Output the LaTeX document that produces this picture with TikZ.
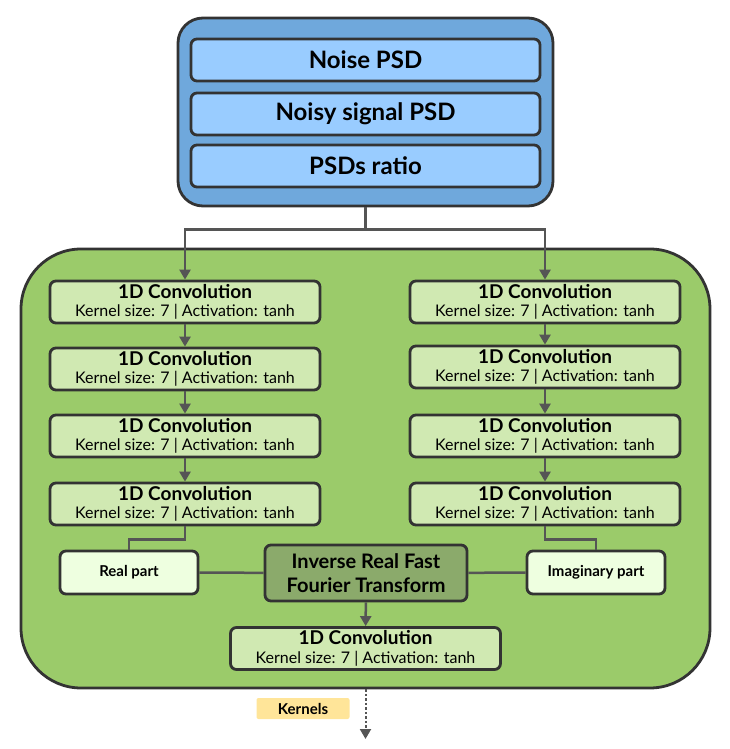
\documentclass[tikz,border=0pt]{standalone}
\usepackage{fontspec}
\setmainfont{Lato}
\usetikzlibrary{arrows.meta}
\definecolor{edge}{HTML}{333333}
\definecolor{wire}{HTML}{555555}
\definecolor{inputfill}{HTML}{6FA8DC}
\definecolor{psdfill}{HTML}{99CCFF}
\definecolor{bodyfill}{HTML}{9BCB6A}
\definecolor{convfill}{HTML}{D0E9B2}
\definecolor{partfill}{HTML}{EEFFE0}
\definecolor{fftfill}{HTML}{8BAA6B}
\definecolor{kernfill}{HTML}{FFE599}

\begin{document}
\begin{tikzpicture}[x=1pt,y=-1pt,
  box/.style={draw=edge,line width=2.8pt,rounded corners=6pt,inner sep=0pt,align=center},
  psd/.style={box,fill=psdfill,minimum width=349pt,minimum height=42pt,font=\bfseries\fontsize{24}{28}\selectfont},
  conv/.style={box,fill=convfill,minimum width=270pt,minimum height=42pt},
  part/.style={box,fill=partfill,minimum width=138pt,minimum height=43pt,font=\bfseries\fontsize{15}{18}\selectfont},
  wire/.style={draw=wire,line width=2.5pt},
  arrow/.style={wire,-{Triangle[length=10pt,width=11pt]}}]
\useasboundingbox (0,0) rectangle (730,749);

\newcommand{\convtext}{{\bfseries\fontsize{19}{21}\selectfont 1D Convolution}\\[5pt]{\fontsize{16}{18}\selectfont Kernel size: 7 | Activation: tanh}}

% input panel
\node[box,fill=inputfill,rounded corners=25pt,minimum width=375pt,minimum height=188pt] (inputs) at (365.5,112) {};
\node[psd] (noise) at (365.5,60) {Noise PSD};
\node[psd] (noisy) at (365.5,114) {Noisy signal PSD};
\node[psd] (ratio) at (365.5,166) {PSDs ratio};

% network body
\node[box,fill=bodyfill,rounded corners=60pt,minimum width=689pt,minimum height=439pt] (body) at (365.5,468.5) {};

\node[conv] (convL1) at (185,302) {\convtext};
\node[conv] (convL2) at (185,369) {\convtext};
\node[conv] (convL3) at (185,436) {\convtext};
\node[conv] (convL4) at (185,504) {\convtext};

\node[conv] (convR1) at (545,302) {\convtext};
\node[conv] (convR2) at (545,367) {\convtext};
\node[conv] (convR3) at (545,436) {\convtext};
\node[conv] (convR4) at (545,504) {\convtext};

\node[part] (real) at (129,572.5) {Real part};
\node[part] (imag) at (596,572.5) {Imaginary part};
\node[box,fill=fftfill,minimum width=202pt,minimum height=56pt,font=\bfseries\fontsize{20}{23.5}\selectfont] (irfft) at (366,573) {Inverse Real Fast\\Fourier Transform};
\node[conv] (convout) at (365.5,648.5) {\convtext};

% output
\node[fill=kernfill,rounded corners=2pt,minimum width=93pt,minimum height=21pt,inner sep=0pt,font=\bfseries\fontsize{15}{17}\selectfont] (kernels) at (303,708.5) {Kernels};
\coordinate (out) at (365.5,739);

% connectors
\draw[wire] (inputs.south) -- ++(0,22) coordinate (split);
\draw[arrow] (split) -| (convL1.north);
\draw[arrow] (split) -| (convR1.north);
\draw[arrow] (convL1) -- (convL2);
\draw[arrow] (convL2) -- (convL3);
\draw[arrow] (convL3) -- (convL4);
\draw[arrow] (convR1) -- (convR2);
\draw[arrow] (convR2) -- (convR3);
\draw[arrow] (convR3) -- (convR4);
\draw[wire] (convL4.south) -- ++(0,13) -| (real.north);
\draw[wire] (convR4.south) -- ++(0,13) -| (imag.north);
\draw[wire] (real) -- (irfft);
\draw[wire] (imag) -- (irfft);
\draw[arrow] (irfft) -- (convout);
\draw[arrow,dotted,line width=2pt] (body.south) -- (out);
\end{tikzpicture}
\end{document}
